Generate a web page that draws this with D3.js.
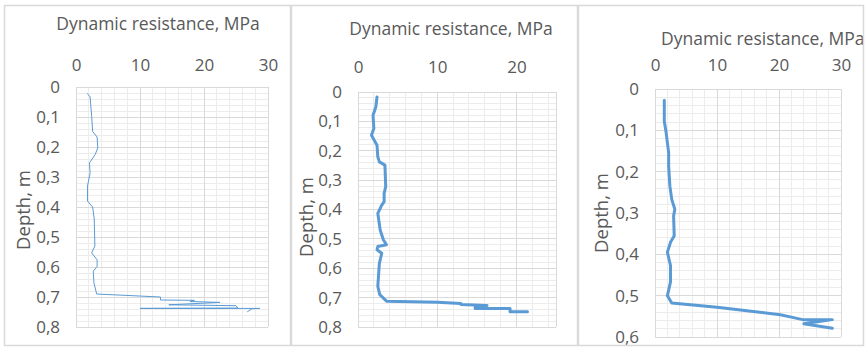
<!DOCTYPE html>
<html>
<head>
<meta charset="utf-8">
<script src="https://cdn.jsdelivr.net/npm/d3@7"></script>
<style>
  body { margin: 0; background: #fff; }
  svg  { display: block; font-family: "Open Sans", sans-serif; }
</style>
</head>
<body>
<svg id="chart" width="868" height="349"></svg>
<script>
// ── data ───────────────────────────────────────────────────────────────
const TITLE   = 'Dynamic resistance, MPa';
const Y_LABEL = 'Depth, m';

// test 1 (thin line)
const resist1 = [1.8, 2.2, 2.45, 2.6, 3.3, 3.4, 3.0, 2.1, 2.2, 1.8, 1.8, 2.6, 2.85, 2.95, 2.45, 3.3, 3.3, 2.7, 2.8, 3.2,
                 3.2, 13.2, 13.2, 18.5, 17.8, 22.5, 14.5, 25.0, 25.3, 10.0, 28.7, 27.5, 26.8];
const depth1  = [0.022, 0.033, 0.098, 0.148, 0.167, 0.203, 0.225, 0.253, 0.287, 0.33, 0.38, 0.40, 0.44, 0.53, 0.553, 0.576, 0.598, 0.614, 0.653, 0.687,
                 0.69, 0.70, 0.71, 0.711, 0.715, 0.718, 0.726, 0.729, 0.737, 0.738, 0.738, 0.739, 0.749];

// test 2
const resist2 = [2.4, 2.25, 1.9, 2.0, 1.7, 2.4, 2.5, 2.7, 3.4, 3.5, 3.3, 3.3, 3.0, 2.5, 2.8, 3.2, 3.6, 2.5, 2.4, 3.0, 2.7, 2.5, 2.75,
                 3.6, 10.0, 13.0, 13.0, 16.3, 14.8, 14.8, 19.2, 19.2, 21.4];
const depth2  = [0.017, 0.051, 0.079, 0.124, 0.147, 0.181, 0.221, 0.238, 0.249, 0.322, 0.345, 0.373, 0.385, 0.413, 0.47, 0.503, 0.52, 0.526, 0.537, 0.549, 0.583, 0.662, 0.69,
                 0.712, 0.716, 0.72, 0.723, 0.727, 0.733, 0.737, 0.737, 0.748, 0.748];

// test 3
const resist3 = [1.5, 1.5, 1.8, 2.2, 2.2, 2.4, 2.7, 3.2, 3.0, 3.1, 2.5, 2.0, 2.5, 2.5, 2.0, 2.7,
                 10.0, 16.9, 20.2, 22.0, 23.8, 28.6, 24.0, 28.6];
const depth3  = [0.027, 0.078, 0.106, 0.154, 0.186, 0.235, 0.267, 0.291, 0.307, 0.355, 0.371, 0.395, 0.427, 0.467, 0.5, 0.518,
                 0.528, 0.54, 0.546, 0.552, 0.558, 0.558, 0.568, 0.579];

const xTicks1 = [0, 10, 20, 30];
const xTicks2 = [0, 10, 20];
const xTicks3 = [0, 10, 20, 30];
const yTicks8 = [0, 0.1, 0.2, 0.3, 0.4, 0.5, 0.6, 0.7, 0.8];
const yTicks6 = [0, 0.1, 0.2, 0.3, 0.4, 0.5, 0.6];

// ── layout ─────────────────────────────────────────────────────────────
const TEXT_COL  = '#595959';
const LINE_COL  = '#5B9BD5';
const GRID_MAJ  = '#D9D9D9';
const GRID_MIN  = '#ECECEC';
const FRAME_COL = '#D9D9D9';

const panels = [
  { x: resist1, y: depth1, xTicks: xTicks1, yTicks: yTicks8, xMax: 30, yMax: 0.8, lw: 1,
    frame: [4, 5, 287, 341], plot: { l: 76, r: 268, t: 87, b: 327 },
    title: { x: 158, y: 30, anchor: 'middle' }, xTickY: 71, yLab: { x: 22, y: 210 } },
  { x: resist2, y: depth2, xTicks: xTicks2, yTicks: yTicks8, xMax: 25, yMax: 0.8, lw: 3,
    frame: [291, 5, 287, 341], plot: { l: 358, r: 556, t: 92, b: 327 },
    title: { x: 451, y: 35, anchor: 'middle' }, xTickY: 73, yLab: { x: 305, y: 217 } },
  { x: resist3, y: depth3, xTicks: xTicks3, yTicks: yTicks6, xMax: 30, yMax: 0.6, lw: 3,
    frame: [578, 5, 286, 341], plot: { l: 655, r: 841, t: 89, b: 337 },
    title: { x: 661, y: 45, anchor: 'start' }, xTickY: 71, yLab: { x: 600, y: 213 } },
];

const fmtDepth = d => d === 0 ? '0' : d.toFixed(1).replace('.', ',');

const svg = d3.select('#chart');

panels.forEach((p, i) => {
  const [fx, fy, fw, fh] = p.frame;
  const clipId = 'clip' + i;
  svg.append('clipPath').attr('id', clipId)
    .append('rect').attr('x', fx).attr('y', fy).attr('width', fw).attr('height', fh);

  const g = svg.append('g').attr('clip-path', `url(#${clipId})`);

  const x = d3.scaleLinear().domain([0, p.xMax]).range([p.plot.l, p.plot.r]);
  const y = d3.scaleLinear().domain([0, p.yMax]).range([p.plot.t, p.plot.b]);

  // minor grid
  const minorX = d3.range(0, p.xMax + 1e-6, 2);
  const minorY = d3.range(0, p.yMax + 1e-6, 0.02);
  g.append('g').selectAll('line').data(minorX).join('line')
    .attr('x1', d => x(d)).attr('x2', d => x(d))
    .attr('y1', p.plot.t).attr('y2', p.plot.b)
    .attr('stroke', GRID_MIN).attr('stroke-width', 1).attr('shape-rendering', 'crispEdges');
  g.append('g').selectAll('line').data(minorY).join('line')
    .attr('x1', p.plot.l).attr('x2', p.plot.r)
    .attr('y1', d => y(d)).attr('y2', d => y(d))
    .attr('stroke', GRID_MIN).attr('stroke-width', 1).attr('shape-rendering', 'crispEdges');

  // major grid
  const majorX = d3.range(0, p.xMax + 1e-6, 10).concat([p.xMax]);
  g.append('g').selectAll('line').data(majorX).join('line')
    .attr('x1', d => x(d)).attr('x2', d => x(d))
    .attr('y1', p.plot.t).attr('y2', p.plot.b)
    .attr('stroke', GRID_MAJ).attr('stroke-width', 1).attr('shape-rendering', 'crispEdges');
  g.append('g').selectAll('line').data(p.yTicks).join('line')
    .attr('x1', p.plot.l).attr('x2', p.plot.r)
    .attr('y1', d => y(d)).attr('y2', d => y(d))
    .attr('stroke', GRID_MAJ).attr('stroke-width', 1).attr('shape-rendering', 'crispEdges');

  // x axis (top)
  const xAxis = g.append('g')
    .attr('transform', `translate(0,${p.xTickY})`)
    .call(d3.axisTop(x).tickValues(p.xTicks).tickSize(0).tickPadding(0).tickFormat(d3.format('d')));
  xAxis.select('.domain').remove();
  xAxis.selectAll('text')
    .attr('fill', TEXT_COL).attr('font-size', 17).attr('font-family', '"Open Sans", sans-serif')
    .attr('dy', 0);

  // y axis
  const yAxis = g.append('g')
    .attr('transform', `translate(${p.plot.l - 16},0)`)
    .call(d3.axisLeft(y).tickValues(p.yTicks).tickSize(0).tickPadding(0).tickFormat(fmtDepth));
  yAxis.select('.domain').remove();
  yAxis.selectAll('text')
    .attr('fill', TEXT_COL).attr('font-size', 17).attr('font-family', '"Open Sans", sans-serif');

  // data line
  const pts = p.x.map((v, k) => [v, p.y[k]]);
  g.append('path')
    .datum(pts)
    .attr('d', d3.line().x(d => x(d[0])).y(d => y(d[1])))
    .attr('fill', 'none')
    .attr('stroke', LINE_COL)
    .attr('stroke-width', p.lw)
    .attr('stroke-linejoin', 'round')
    .attr('stroke-linecap', 'round');

  // title
  g.append('text')
    .attr('x', p.title.x).attr('y', p.title.y)
    .attr('text-anchor', p.title.anchor)
    .attr('fill', TEXT_COL).attr('font-size', 17.5)
    .text(TITLE);

  // y label
  g.append('text')
    .attr('transform', `translate(${p.yLab.x},${p.yLab.y}) rotate(-90)`)
    .attr('text-anchor', 'middle')
    .attr('dominant-baseline', 'central')
    .attr('fill', TEXT_COL).attr('font-size', 18.5)
    .text(Y_LABEL);

  // chart frame
  svg.append('rect')
    .attr('x', fx + 0.5).attr('y', fy + 0.5).attr('width', fw - 1).attr('height', fh - 1)
    .attr('fill', 'none').attr('stroke', FRAME_COL).attr('stroke-width', 1.5);
});
</script>
</body>
</html>
